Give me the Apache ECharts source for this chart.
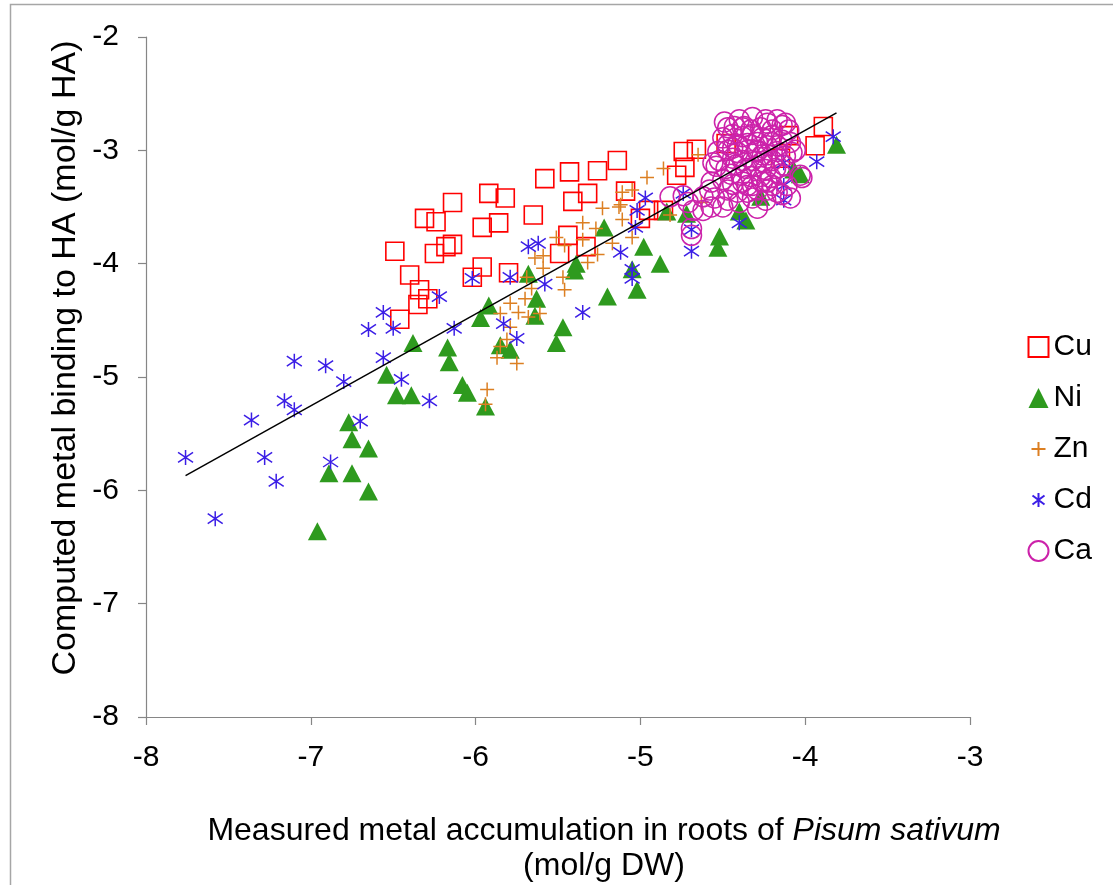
<!DOCTYPE html>
<html>
<head>
<meta charset="utf-8">
<script src="https://cdn.jsdelivr.net/npm/echarts@6/dist/echarts.min.js"></script>
<style>
html,body{margin:0;padding:0;background:#fff;}
#chart{width:1113px;height:885px;}
</style>
</head>
<body>
<div id="chart"></div>
<script>
// ---- data (log values) ----
const cuX = [-6.49,-6.40,-6.34,-6.35,-6.46,-6.29,-6.31,-6.24,-6.14,-6.25,-6.18,-6.14,-5.92,-5.82,-5.96,-5.86,-6.02,-5.96,-5.80,-5.58,-5.65,-5.43,-5.26,-5.14,-5.41,-5.32,-5.44,-5.33,-5.49,-5.09,-5.00,-4.95,-4.86,-4.74,-4.66,-4.73,-4.78,-4.48,-4.15,-4.10,-3.89,-3.94];
const cuY = [-3.89,-4.10,-4.23,-4.36,-4.49,-4.31,-3.60,-3.63,-3.46,-3.91,-3.85,-3.83,-3.38,-3.42,-3.68,-3.64,-4.12,-4.03,-4.08,-3.25,-3.57,-3.19,-3.18,-3.09,-3.45,-3.38,-3.75,-3.85,-3.91,-3.36,-3.60,-3.53,-3.53,-3.01,-2.99,-3.15,-3.22,-2.94,-3.07,-2.87,-2.79,-2.96];

const niX = [-6.54,-6.48,-6.39,-6.77,-6.75,-6.65,-6.89,-6.75,-6.65,-6.96,-6.38,-6.17,-6.16,-6.08,-6.05,-5.94,-5.97,-5.92,-5.85,-5.79,-5.68,-5.63,-5.64,-5.39,-5.40,-5.22,-4.98,-5.05,-5.02,-5.20,-5.47,-5.51,-4.88,-4.84,-4.72,-4.52,-4.53,-4.40,-4.36,-4.27,-4.07,-4.03,-3.81];
const niY = [-4.98,-5.16,-5.16,-5.40,-5.55,-5.63,-5.85,-5.85,-6.01,-6.36,-4.70,-4.74,-4.87,-5.07,-5.14,-5.26,-4.48,-4.37,-4.72,-4.76,-4.09,-4.31,-4.46,-4.00,-4.06,-3.68,-3.85,-4.05,-4.23,-4.29,-4.56,-4.70,-4.00,-3.54,-3.56,-3.76,-3.86,-3.54,-3.62,-3.41,-3.17,-3.21,-2.95];

const znX = [-5.93,-5.94,-5.75,-5.87,-5.85,-5.81,-5.79,-5.79,-5.85,-5.74,-5.68,-5.61,-5.70,-5.66,-5.46,-5.47,-5.59,-5.59,-5.69,-5.64,-5.51,-5.46,-5.35,-5.35,-5.27,-5.32,-5.26,-5.17,-5.23,-5.12,-5.11,-5.05,-4.96,-4.86,-4.65,-5.05,-5.11,-5.13,-4.82,-4.63];
const znY = [-5.11,-5.24,-4.88,-4.83,-4.73,-4.67,-4.56,-4.35,-4.44,-4.43,-4.47,-4.44,-4.31,-4.22,-4.23,-4.12,-4.04,-3.93,-4.12,-3.95,-3.77,-3.84,-3.79,-3.64,-3.69,-3.99,-3.92,-3.82,-3.51,-3.48,-3.37,-3.35,-3.24,-3.16,-3.04,-3.77,-3.61,-3.50,-3.57,-3.46];

const cdX = [-7.76,-7.58,-7.36,-7.28,-7.21,-7.10,-7.16,-7.10,-6.91,-6.80,-6.88,-6.70,-6.56,-6.65,-6.50,-6.56,-6.02,-5.79,-6.22,-6.13,-5.68,-5.62,-5.58,-5.83,-5.75,-6.45,-6.28,-4.97,-5.02,-5.03,-5.12,-5.05,-5.05,-5.35,-4.74,-4.69,-4.69,-4.40,-4.13,-4.13,-4.13,-3.93,-3.83];
const cdY = [-5.71,-6.25,-5.38,-5.71,-5.92,-4.86,-5.21,-5.29,-4.90,-5.04,-5.75,-5.39,-4.43,-4.58,-4.57,-4.83,-4.13,-4.12,-4.29,-4.57,-3.85,-3.82,-4.18,-4.53,-4.66,-5.02,-5.21,-3.42,-3.53,-3.68,-3.90,-4.05,-4.13,-4.43,-3.38,-3.70,-3.89,-3.64,-3.11,-3.31,-3.44,-3.10,-2.88];

const caX = [-4.40,-4.32,-4.17,-4.23,-4.47,-4.10,-4.37,-4.27,-4.20,
  -4.50,-4.44,-4.38,-4.32,-4.26,-4.20,-4.14,-4.09,-4.47,-4.35,-4.23,
  -4.53,-4.47,-4.41,-4.35,-4.29,-4.23,-4.17,-4.12,-4.44,-4.32,-4.20,
  -4.54,-4.48,-4.42,-4.36,-4.30,-4.24,-4.18,-4.39,-4.27,-4.15,
  -4.57,-4.50,-4.44,-4.38,-4.32,-4.26,-4.20,-4.47,-4.35,-4.23,
  -4.62,-4.55,-4.47,-4.40,-4.32,-4.24,-4.14,
  -4.74,-4.82,-4.71,-4.68,-4.69,-4.69,-4.62,-4.57,-4.50,-4.29,-4.11,-4.03,-4.08,-4.09,-4.56,-4.12,-4.02,
  -4.43,-4.24,-4.33,-4.41,-4.29,-4.17,-4.38,-4.26,-4.13,-4.45,-4.33,-4.21,-4.41,-4.29,-4.17,
  -4.52,-4.49,-4.14,-4.06,-4.58,-4.29,-4.38,-4.21,-4.44,-4.26,-4.35,-4.23];
const caY = [-2.73,-2.71,-2.73,-2.76,-2.80,-2.82,-2.79,-2.80,-2.82,
  -2.89,-2.86,-2.88,-2.86,-2.89,-2.87,-2.91,-2.93,-2.95,-2.94,-2.96,
  -3.01,-3.00,-3.02,-3.00,-3.01,-3.04,-3.01,-3.05,-3.07,-3.09,-3.09,
  -3.14,-3.16,-3.13,-3.16,-3.14,-3.17,-3.16,-3.22,-3.23,-3.21,
  -3.28,-3.26,-3.30,-3.28,-3.31,-3.28,-3.31,-3.35,-3.37,-3.35,
  -3.41,-3.42,-3.44,-3.46,-3.42,-3.44,-3.39,
  -3.40,-3.41,-3.46,-3.53,-3.69,-3.75,-3.53,-3.50,-3.50,-3.51,-3.31,-3.22,-3.02,-3.42,-3.11,-2.76,-3.24,
  -2.79,-2.73,-2.82,-2.95,-2.93,-2.96,-3.09,-3.10,-3.13,-3.21,-3.23,-3.24,-3.37,-3.35,-3.37,
  -3.09,-2.75,-2.78,-3.00,-3.35,-3.00,-2.80,-2.93,-2.98,-3.04,-3.31,-3.28];

const fitX = [-7.76, -3.81];
const fitY = [-5.87, -2.67];

const xTicks = [-8,-7,-6,-5,-4,-3];
const yTicks = [-8,-7,-6,-5,-4,-3,-2];
const seriesNames = ['Cu','Ni','Zn','Cd','Ca'];

// ---- build ----
const zip = (xs, ys) => xs.map((x, i) => [x, ys[i]]);
const FONT = '"Liberation Sans", Arial, sans-serif';
const PLUS = 'path://M0,6L12,6M6,0L6,12';
const AST = 'path://M6,0L6,12M0.5,2L11.5,10M0.5,10L11.5,2';
const PLUS_LEG = 'path://M0,0M20,20M3,10L17,10M10,3L10,17';
const AST_LEG = 'path://M0,0M20,20M10,3L10,17M4,5.5L16,14.5M4,14.5L16,5.5';

const chart = echarts.init(document.getElementById('chart'), null, {renderer: 'canvas'});
const axisCol = '#868686';
const option = {
  animation: false,
  backgroundColor: '#ffffff',
  grid: {left: 146, right: 143, top: 37, bottom: 168},
  xAxis: {
    type: 'value', min: xTicks[0], max: xTicks[xTicks.length-1], interval: 1,
    splitLine: {show: false},
    axisLine: {onZero: false, lineStyle: {color: axisCol, width: 1.2}},
    axisTick: {show: true, length: 8, lineStyle: {color: axisCol, width: 1.2}},
    axisLabel: {color: '#000', fontSize: 30, fontFamily: FONT, margin: 26}
  },
  yAxis: {
    type: 'value', min: yTicks[0], max: yTicks[yTicks.length-1], interval: 1,
    splitLine: {show: false},
    axisLine: {show: true, onZero: false, lineStyle: {color: axisCol, width: 1.2}},
    axisTick: {show: true, length: 8, lineStyle: {color: axisCol, width: 1.2}},
    axisLabel: {color: '#000', fontSize: 30, fontFamily: FONT, margin: 27}
  },
  legend: {
    orient: 'vertical', left: 1021, top: 327,
    itemWidth: 20, itemHeight: 20, itemGap: 21,
    textStyle: {color: '#000', fontSize: 30, fontFamily: FONT},
    data: [
      {name: 'Cu'}, {name: 'Ni'},
      {name: 'Zn', icon: PLUS_LEG}, {name: 'Cd', icon: AST_LEG}, {name: 'Ca'}
    ]
  },
  series: [
    {name: seriesNames[0], type: 'scatter', data: zip(cuX, cuY), symbol: 'rect', symbolSize: 18,
      itemStyle: {color: 'rgba(255,255,255,0)', borderColor: '#FF0000', borderWidth: 1.6, opacity: 1}},
    {name: seriesNames[1], type: 'scatter', data: zip(niX, niY), symbol: 'triangle', symbolSize: [19, 18],
      itemStyle: {color: '#2E9A1E', opacity: 1}},
    {name: seriesNames[2], type: 'scatter', data: zip(znX, znY), symbol: PLUS, symbolSize: 14,
      itemStyle: {color: 'none', borderColor: '#DC7F22', borderWidth: 1.5, opacity: 1}},
    {name: seriesNames[3], type: 'scatter', data: zip(cdX, cdY), symbol: AST, symbolSize: 15,
      itemStyle: {color: 'none', borderColor: '#3B1EE6', borderWidth: 1.5, opacity: 1}},
    {name: seriesNames[4], type: 'scatter', data: zip(caX, caY), symbol: 'circle', symbolSize: 20,
      itemStyle: {color: 'rgba(255,255,255,0)', borderColor: '#CC22AA', borderWidth: 1.5, opacity: 1}},
    {name: 'fit', type: 'line', data: zip(fitX, fitY), showSymbol: false, symbol: 'none', z: 10,
      silent: true, lineStyle: {color: '#000', width: 1.5}}
  ],
  graphic: [
    {type: 'rect', shape: {x: 10.5, y: 4.5, width: 1300, height: 1000}, silent: true,
      style: {fill: 'none', stroke: '#A6A6A6', lineWidth: 1.5}},
    {type: 'text', x: 66, y: 358, rotation: Math.PI / 2, silent: true,
      style: {text: 'Computed metal binding to HA (mol/g HA)', fontSize: 34, fontFamily: FONT, fill: '#000',
        textAlign: 'center', textVerticalAlign: 'middle'}},
    {type: 'text', x: 604, y: 831, silent: true,
      style: {text: '{n|Measured metal accumulation in roots of }{i|Pisum sativum}', fontSize: 32, fontFamily: FONT, fill: '#000',
        textAlign: 'center', textVerticalAlign: 'middle',
        rich: {n: {fontSize: 32, fontFamily: FONT, fill: '#000'}, i: {fontSize: 32, fontFamily: FONT, fontStyle: 'italic', fill: '#000'}}}},
    {type: 'text', x: 604, y: 866, silent: true,
      style: {text: '(mol/g DW)', fontSize: 32, fontFamily: FONT, fill: '#000',
        textAlign: 'center', textVerticalAlign: 'middle'}}
  ]
};
chart.setOption(option);
</script>
</body>
</html>
